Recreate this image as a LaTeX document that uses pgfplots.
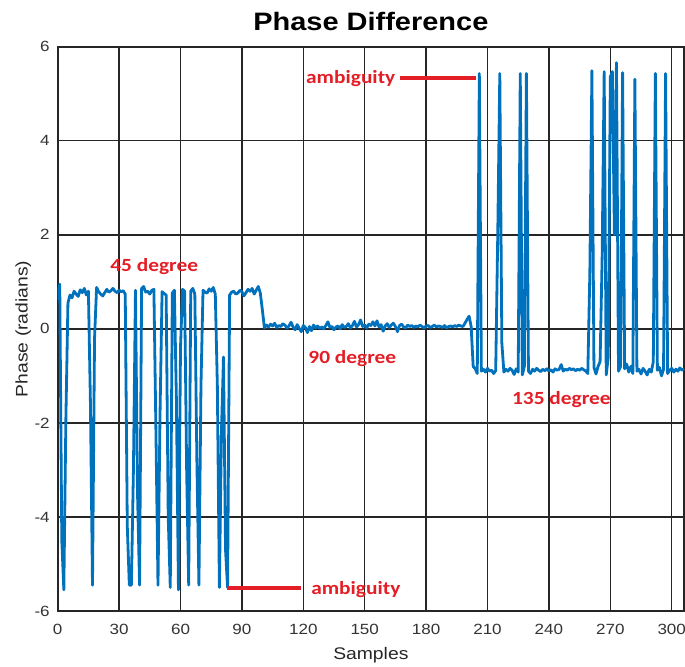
\documentclass[border=0pt]{standalone}
\usepackage{pgfplots}
\pgfplotsset{compat=1.18}
\usepackage{fontspec}
\setmainfont{Liberation Sans}[FakeStretch=1.15]
\newfontfamily\notefont{Carlito}[FakeStretch=1.15]
\usetikzlibrary{calc}
\definecolor{mblue}{RGB}{0,114,189}
\definecolor{nred}{RGB}{228,30,38}

\begin{document}
\begin{tikzpicture}
\begin{axis}[
    scale only axis,
    width=313.15pt, height=282.15pt,
    xmin=0, xmax=306, ymin=-6, ymax=6,
    xtick={0,30,...,300}, ytick={-6,-4,...,6},
    grid=major,
    major grid style={black!85, line width=0.75pt},
    axis line style={black!85, line width=1pt},
    major tick length=0pt,
    /pgf/number format/assume math mode=true,
    tick label style={font=\fontsize{7.4}{8}\selectfont, text=black!80, inner sep=0pt},
    xticklabel style={anchor=base, yshift=-12pt},
    yticklabel style={anchor=east, xshift=-3.8pt},
    title={Phase Difference},
    title style={font=\fontsize{12.6}{14}\selectfont\bfseries, at={(0.5,1)}, anchor=base, yshift=2pt, inner sep=0pt},
    xlabel={Samples},
    xlabel style={font=\fontsize{8.4}{10}\selectfont, text=black!85, at={(0.5,0)}, anchor=base, yshift=-24.5pt, inner sep=0pt},
]
\coordinate (sw) at (rel axis cs:0,0);
\coordinate (ne) at (rel axis cs:1,1);
\coordinate (wl) at (rel axis cs:0,0.5);

\addplot[mblue, line width=1.4pt, line join=round] coordinates {
(0,0.62)(1,0.95)(2,-4.50)(3,-5.55)(4,-1.90)(5,0.55)(6,0.72)(7,0.66)(8,0.80)(9,0.74)
(10,0.69)(11,0.83)(12,0.77)(13,0.86)(14,0.72)(15,0.80)(16,-1.60)(17,-5.45)(18,-0.20)(19,0.88)
(20,0.79)(21,0.74)(22,0.70)(23,0.77)(24,0.84)(25,0.78)(26,0.81)(27,0.86)(28,0.80)(29,0.77)
(30,0.82)(31,0.79)(32,0.81)(33,0.74)(34,-4.20)(35,-5.45)(36,-5.45)(37,-3.00)(38,0.82)(39,-3.50)
(40,-5.45)(41,0.86)(42,0.90)(43,0.78)(44,0.80)(45,0.74)(46,0.82)(47,0.84)(48,-2.20)(49,-5.45)
(50,-1.80)(51,0.79)(52,0.75)(53,0.72)(54,-4.00)(55,-5.50)(56,0.76)(57,0.82)(58,-1.50)(59,-5.55)
(60,-0.40)(61,0.84)(62,0.80)(63,-3.00)(64,-5.45)(65,0.80)(66,0.86)(67,0.74)(68,-2.80)(69,-5.45)
(70,-1.20)(71,0.82)(72,0.78)(73,0.76)(74,0.85)(75,0.80)(76,0.88)(77,0.74)(78,-1.20)(79,-5.50)
(80,-2.20)(81,-0.60)(82,-4.70)(83,-5.50)(84,0.72)(85,0.78)(86,0.80)(87,0.74)(88,0.76)(89,0.82)
(90,0.79)(91,0.70)(92,0.77)(93,0.84)(94,0.80)(95,0.86)(96,0.74)(97,0.82)(98,0.90)(99,0.76)
(100,0.40)(101,0.02)(102,0.08)(103,0.04)(104,0.10)(105,0.06)(106,0.12)(107,0.03)(108,0.07)(109,0.05)
(110,0.11)(111,0.08)(112,0.02)(113,0.06)(114,0.14)(115,0.04)(116,-0.02)(117,0.09)(118,0.01)(119,-0.06)
(120,0.07)(121,0.03)(122,-0.08)(123,0.05)(124,-0.04)(125,0.08)(126,0.02)(127,0.06)(128,0.01)(129,0.04)
(130,0.00)(131,0.07)(132,0.15)(133,0.03)(134,0.05)(135,-0.02)(136,0.04)(137,0.06)(138,0.00)(139,0.09)
(140,0.03)(141,0.05)(142,0.11)(143,0.02)(144,0.07)(145,0.16)(146,0.04)(147,0.09)(148,0.19)(149,0.05)
(150,0.08)(151,0.02)(152,0.10)(153,0.07)(154,0.15)(155,0.06)(156,0.17)(157,0.04)(158,0.09)(159,-0.05)
(160,0.06)(161,0.11)(162,0.03)(163,0.08)(164,0.12)(165,0.05)(166,-0.06)(167,0.07)(168,0.10)(169,0.04)
(170,0.02)(171,0.08)(172,0.05)(173,0.07)(174,0.03)(175,0.06)(176,0.04)(177,0.08)(178,0.05)(179,0.02)
(180,0.06)(181,0.07)(182,0.03)(183,0.05)(184,0.08)(185,0.04)(186,0.06)(187,0.05)(188,0.03)(189,0.07)
(190,0.02)(191,0.05)(192,0.06)(193,0.04)(194,0.07)(195,0.05)(196,0.08)(197,0.06)(198,0.05)(199,0.12)
(200,0.20)(201,0.27)(202,0.05)(203,-0.80)(204,-0.85)(205,-0.95)(206,5.43)(207,-0.90)(208,-0.86)(209,-0.92)
(210,-0.84)(211,-0.90)(212,-0.88)(213,-0.95)(214,-0.89)(215,2.00)(216,5.43)(217,-0.30)(218,-0.92)(219,-0.86)
(220,-0.90)(221,-0.84)(222,-0.88)(223,-0.97)(224,-0.85)(225,-0.92)(226,5.43)(227,-0.98)(228,-0.80)(229,5.43)
(230,-0.90)(231,-0.95)(232,-0.86)(233,-0.90)(234,-0.84)(235,-0.88)(236,-0.91)(237,-0.86)(238,-0.89)(239,-0.85)
(240,-0.90)(241,-0.87)(242,-0.92)(243,-0.85)(244,-0.88)(245,-0.86)(246,-0.76)(247,-0.90)(248,-0.86)(249,-0.88)
(250,-0.84)(251,-0.87)(252,-0.85)(253,-0.89)(254,-0.86)(255,-0.88)(256,-0.84)(257,-0.87)(258,-0.90)(259,-0.95)
(260,1.20)(261,5.49)(262,-0.82)(263,-0.96)(264,-0.80)(265,-0.70)(266,1.50)(267,5.47)(268,-0.98)(269,-0.60)
(270,5.36)(271,5.47)(272,2.00)(273,5.66)(274,-0.90)(275,-0.80)(276,5.45)(277,-0.85)(278,-0.75)(279,-0.92)
(280,-0.80)(281,-0.95)(282,5.31)(283,-0.90)(284,-0.86)(285,-0.96)(286,-0.84)(287,-0.90)(288,-0.98)(289,-0.86)
(290,-0.92)(291,-0.70)(292,5.43)(293,-0.88)(294,-0.82)(295,-1.00)(296,-0.86)(297,5.43)(298,-0.95)(299,-0.88)
(300,-0.84)(301,-0.92)(302,-0.86)(303,-0.90)(304,-0.83)(305,-0.88)(306,-0.85)
};

% annotation arrows
\addplot[nred, line width=2pt] coordinates {(167.2,5.33)(204.4,5.33)};
\addplot[nred, line width=2pt] coordinates {(82.6,-5.52)(118.9,-5.52)};

\tikzset{note/.style={anchor=base west, inner sep=0pt, text=nred, font=\notefont\bfseries\fontsize{9.3}{11}\selectfont}}
\node[note] at (axis cs:25.5,1.215) {45 degree};
\node[note] at (axis cs:122.3,-0.73) {90 degree};
\node[note] at (axis cs:221.8,-1.60) {135 degree};
\node[note] at (axis cs:121.2,5.21) {ambiguity};
\node[note] at (axis cs:123.7,-5.64) {ambiguity};
\end{axis}
\node[rotate=90, anchor=base, inner sep=0pt, text=black!85, font=\fontsize{8.4}{10}\selectfont] at ($(wl)+(-15pt,0)$) {Phase (radians)};
\pgfresetboundingbox
\path[use as bounding box] ($(sw)+(-28.85pt,-28pt)$) rectangle ($(ne)+(0.5pt,23.35pt)$);
\end{tikzpicture}
\end{document}
